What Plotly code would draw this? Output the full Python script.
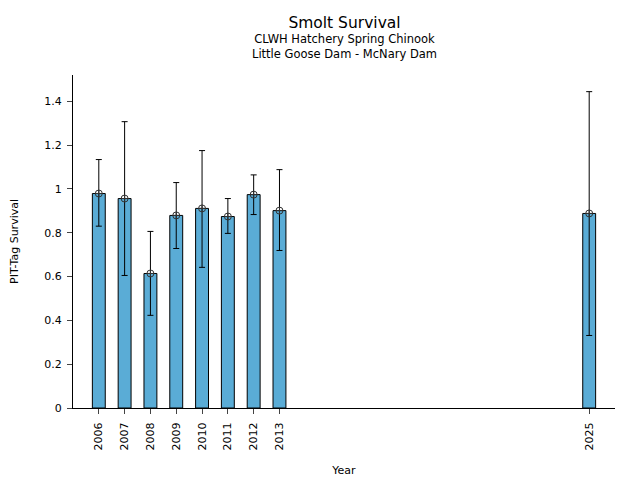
import plotly.graph_objects as go

years = [2006, 2007, 2008, 2009, 2010, 2011, 2012, 2013, 2025]
survival = [0.979, 0.956, 0.614, 0.879, 0.911, 0.874, 0.974, 0.901, 0.888]
upper = [1.134, 1.307, 0.806, 1.029, 1.175, 0.956, 1.064, 1.088, 1.444]
lower = [0.830, 0.605, 0.423, 0.728, 0.642, 0.797, 0.883, 0.719, 0.331]

title = "Smolt Survival"
subtitle_lines = ["CLWH Hatchery Spring Chinook", "Little Goose Dam - McNary Dam"]

err_plus = [u - s for u, s in zip(upper, survival)]
err_minus = [s - l for s, l in zip(survival, lower)]

font = "DejaVu Sans"

fig = go.Figure()
fig.add_trace(go.Bar(
    x=years, y=survival, width=0.5,
    marker=dict(color="#5aacd6", line=dict(color="black", width=1)),
    hoverinfo="skip", showlegend=False,
))
fig.add_trace(go.Scatter(
    x=years, y=survival, mode="markers",
    marker=dict(symbol="circle-cross-open", size=7, color="#333333", line=dict(width=1)),
    error_y=dict(type="data", symmetric=False, array=err_plus, arrayminus=err_minus,
                 color="black", thickness=1, width=3),
    showlegend=False,
))

fig.update_layout(
    width=640, height=480,
    margin=dict(l=73, r=25, t=75, b=72),
    paper_bgcolor="white", plot_bgcolor="white",
    font=dict(family=font, size=11, color="black"),
    xaxis=dict(
        range=[2005, 2026], tickmode="array", tickvals=years,
        ticktext=[str(y) for y in years], tickangle=-90, automargin=False,
        ticks="outside", ticklen=5, ticklabelstandoff=4,
        showline=True, linecolor="black", linewidth=1,
        showgrid=False, zeroline=False,
        title=dict(text="Year", font=dict(size=11), standoff=16),
    ),
    yaxis=dict(
        range=[0, 1.52], tickmode="linear", tick0=0, dtick=0.2, automargin=False,
        ticks="outside", ticklen=5, ticklabelstandoff=3,
        showline=True, linecolor="black", linewidth=1,
        showgrid=False, zeroline=False,
        title=dict(text="PIT-Tag Survival", font=dict(size=11), standoff=23),
    ),
)
fig.add_annotation(
    text="<span style='font-size:15.5px'>" + title + "</span><br>" + "<br>".join(subtitle_lines),
    xref="paper", yref="paper", x=0.5, y=1.0, yshift=38,
    showarrow=False, font=dict(size=11.5), yanchor="middle", align="center",
)

fig.write_html("out.html", config={"displayModeBar": False},
               post_script="document.body.style.margin='0';")
